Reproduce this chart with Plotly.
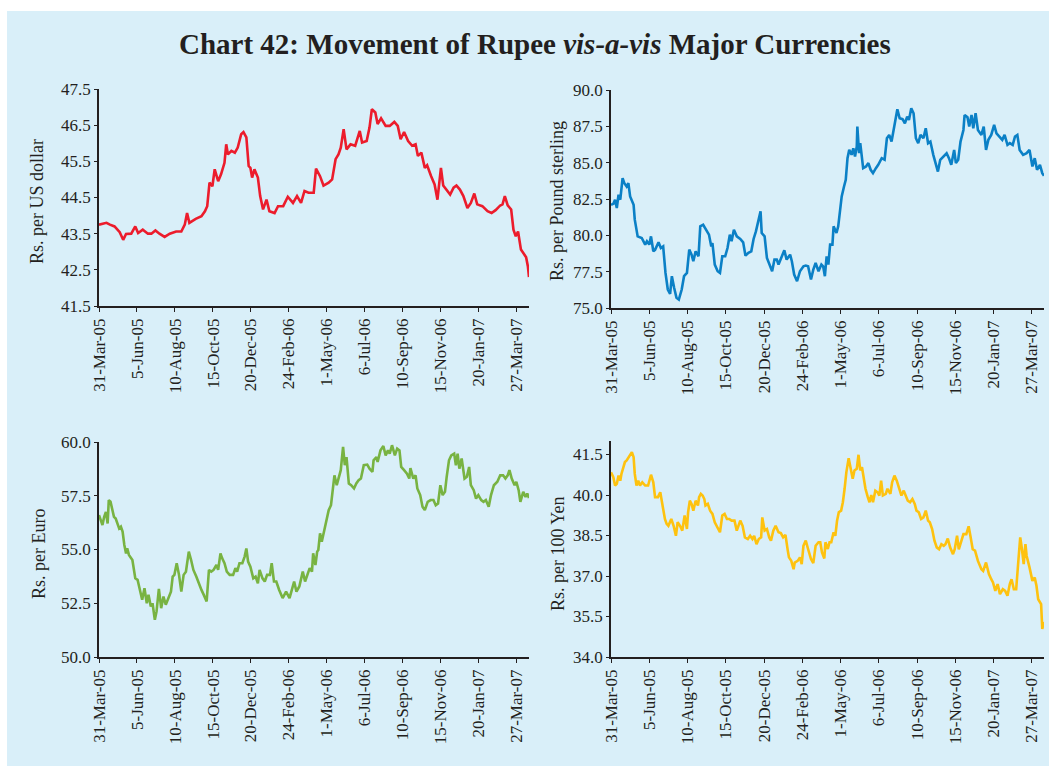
import pandas as pd
import plotly.graph_objects as go

# ---------------- data (days since 31-Mar-2005, value) ----------------
BASE_DATE = "2005-03-31"
END_DATE = "2007-04-17"

tick_dates = ["2005-03-31", "2005-06-05", "2005-08-10", "2005-10-15", "2005-12-20", "2006-02-24",
              "2006-05-01", "2006-07-06", "2006-09-10", "2006-11-15", "2007-01-20", "2007-03-27"]
tick_labels = ["31-Mar-05", "5-Jun-05", "10-Aug-05", "15-Oct-05", "20-Dec-05", "24-Feb-06",
               "1-May-06", "6-Jul-06", "10-Sep-06", "15-Nov-06", "20-Jan-07", "27-Mar-07"]

usd_day = [0, 13, 19, 27, 36, 42, 47, 56, 63, 68,
           76, 85, 91, 98, 105, 114, 123, 134, 143, 149,
           153, 157, 168, 178, 184, 188, 192, 197, 201, 207,
           212, 218, 221, 224, 230, 236, 241, 247, 251, 256,
           260, 263, 266, 270, 276, 280, 285, 291, 296, 305,
           311, 320, 328, 337, 344, 351, 357, 364, 373, 377,
           384, 390, 399, 405, 411, 416, 420, 425, 430, 437,
           445, 453, 457, 465, 470, 474, 480, 484, 490, 498,
           505, 513, 519, 524, 530, 537, 544, 550, 554, 560,
           566, 570, 577, 583, 588, 594, 598, 604, 610, 616,
           621, 627, 633, 640, 646, 652, 657, 666, 675, 682,
           689, 697, 701, 705, 710, 716, 720, 724, 728, 733,
           738, 742, 745, 747]
usd_val = [43.75, 43.80, 43.75, 43.70, 43.54, 43.33, 43.49, 43.50, 43.70, 43.52,
           43.61, 43.50, 43.50, 43.59, 43.50, 43.41, 43.50, 43.56, 43.56, 43.75,
           44.07, 43.80, 43.91, 43.98, 44.12, 44.26, 44.91, 44.81, 45.28, 44.95,
           45.14, 45.46, 45.97, 45.69, 45.79, 45.74, 45.88, 46.25, 46.31, 46.16,
           45.37, 45.32, 45.05, 45.28, 45.05, 44.54, 44.17, 44.44, 44.12, 44.07,
           44.26, 44.26, 44.52, 44.35, 44.54, 44.35, 44.68, 44.63, 44.63, 45.30,
           45.09, 44.83, 44.91, 45.00, 45.56, 45.69, 45.88, 46.39, 45.83, 45.97,
           45.93, 46.34, 46.02, 46.06, 46.44, 46.94, 46.85, 46.53, 46.69, 46.48,
           46.48, 46.59, 46.48, 46.11, 46.31, 46.06, 45.93, 45.97, 45.65, 45.74,
           45.32, 45.39, 45.09, 44.86, 44.44, 45.32, 44.83, 44.72, 44.58, 44.77,
           44.83, 44.72, 44.54, 44.21, 44.35, 44.61, 44.31, 44.26, 44.12, 44.07,
           44.15, 44.28, 44.31, 44.54, 44.28, 44.17, 43.61, 43.43, 43.56, 43.06,
           42.96, 42.85, 42.60, 42.30]

gbp_day = [0, 4, 7, 10, 13, 16, 20, 23, 27, 30,
           33, 39, 41, 46, 53, 59, 62, 66, 69, 73,
           76, 82, 86, 90, 94, 98, 102, 105, 109, 113,
           117, 122, 126, 131, 135, 139, 142, 146, 151, 154,
           159, 165, 169, 173, 175, 179, 184, 188, 192, 197,
           201, 205, 208, 212, 217, 223, 228, 232, 237, 242,
           246, 250, 254, 258, 260, 265, 269, 274, 278, 282,
           286, 289, 294, 299, 303, 309, 312, 316, 321, 326,
           332, 336, 340, 345, 349, 353, 358, 363, 366, 369,
           372, 375, 378, 382, 384, 389, 392, 395, 398, 402,
           405, 408, 411, 415, 418, 421, 424, 425, 428, 430,
           435, 440, 444, 448, 452, 457, 461, 467, 472, 476,
           480, 484, 490, 494, 498, 503, 507, 511, 514, 518,
           522, 526, 530, 534, 539, 543, 547, 551, 556, 560,
           564, 568, 574, 579, 583, 587, 592, 595, 599, 603,
           608, 610, 615, 618, 622, 625, 629, 633, 639, 643,
           647, 651, 656, 661, 665, 670, 675, 679, 684, 688,
           693, 697, 701, 705, 711, 717, 722, 727, 731, 735,
           740, 744, 747]
gbp_val = [82.10, 82.17, 82.45, 81.88, 82.79, 82.45, 83.94, 83.59, 83.36, 83.59,
           82.68, 82.10, 81.08, 79.93, 79.82, 79.36, 79.59, 79.36, 79.93, 78.90,
           79.00, 79.52, 79.13, 79.24, 77.41, 76.27, 75.97, 77.19, 76.38, 75.70,
           75.58, 76.27, 77.19, 77.41, 79.02, 78.67, 78.22, 78.90, 78.56, 80.62,
           80.73, 80.27, 80.05, 79.24, 79.47, 77.99, 77.53, 77.41, 78.56, 78.56,
           79.13, 80.05, 79.59, 80.39, 79.93, 79.75, 79.52, 78.60, 78.79, 78.90,
           79.75, 80.27, 80.96, 81.65, 80.16, 79.93, 78.44, 77.87, 77.53, 78.33,
           78.33, 77.99, 78.44, 78.97, 78.33, 78.67, 78.22, 77.30, 76.84, 77.53,
           77.87, 77.92, 77.87, 76.96, 77.64, 78.10, 77.53, 77.99, 77.87, 77.19,
           78.56, 77.99, 79.36, 79.36, 80.62, 80.16, 80.62, 81.53, 82.68, 83.36,
           83.82, 85.31, 85.88, 85.54, 85.99, 85.42, 86.11, 87.48, 85.65, 86.34,
           84.62, 84.74, 84.97, 84.51, 84.28, 84.62, 84.85, 85.31, 85.20, 86.68,
           86.91, 86.45, 87.71, 88.67, 88.05, 87.99, 87.71, 88.17, 87.94, 88.74,
           88.40, 86.68, 86.34, 86.91, 86.68, 87.37, 86.34, 86.45, 85.54, 84.85,
           84.39, 85.20, 85.42, 85.65, 85.31, 84.85, 85.88, 84.97, 85.20, 86.45,
           87.25, 88.28, 88.12, 87.48, 88.28, 87.37, 88.40, 87.25, 86.91, 87.48,
           85.88, 86.57, 86.91, 87.60, 87.02, 86.80, 86.57, 86.91, 86.22, 86.34,
           86.22, 86.80, 86.91, 85.88, 85.54, 85.65, 85.88, 84.74, 85.31, 84.51,
           84.85, 84.28, 84.10]

eur_day = [0, 3, 6, 9, 12, 15, 17, 20, 23, 26,
           29, 32, 35, 38, 41, 44, 47, 49, 52, 58,
           63, 67, 71, 75, 79, 83, 86, 90, 93, 97,
           100, 104, 108, 112, 116, 121, 125, 128, 131, 135,
           139, 143, 147, 151, 156, 160, 164, 169, 173, 178,
           182, 187, 191, 195, 199, 204, 207, 211, 214, 218,
           222, 227, 233, 237, 240, 244, 249, 253, 256, 259,
           263, 268, 272, 276, 279, 284, 288, 292, 297, 300,
           304, 308, 313, 319, 325, 331, 335, 339, 343, 348,
           354, 358, 362, 366, 370, 372, 376, 379, 381, 384,
           387, 391, 395, 399, 403, 406, 409, 413, 418, 420,
           424, 427, 430, 434, 438, 443, 447, 451, 455, 460,
           466, 470, 475, 477, 482, 484, 489, 494, 498, 502,
           505, 509, 514, 518, 522, 525, 530, 535, 539, 541,
           546, 550, 553, 558, 562, 566, 571, 576, 581, 585,
           589, 593, 597, 601, 604, 608, 612, 617, 620, 623,
           626, 630, 635, 639, 643, 646, 651, 655, 659, 664,
           668, 672, 677, 681, 686, 692, 697, 702, 706, 710,
           713, 717, 722, 725, 729, 732, 737, 741, 744, 747]
eur_val = [56.60, 56.37, 56.14, 56.52, 56.75, 56.21, 57.30, 57.22, 56.91, 56.52,
           56.44, 56.21, 55.98, 56.06, 55.83, 55.21, 54.82, 55.05, 54.75, 54.51,
           53.66, 53.59, 53.04, 52.66, 53.20, 52.50, 52.89, 52.35, 52.50, 51.73,
           52.12, 53.17, 52.27, 52.81, 52.43, 52.74, 53.04, 53.74, 53.82, 54.36,
           53.82, 53.04, 53.82, 53.97, 54.90, 54.51, 54.05, 53.74, 53.43, 53.12,
           52.89, 52.58, 54.05, 53.97, 54.05, 54.28, 54.05, 54.82, 54.59, 54.36,
           53.97, 53.82, 53.82, 54.13, 53.97, 54.36, 54.36, 54.67, 55.05, 54.44,
           54.20, 53.66, 53.74, 53.43, 54.05, 53.66, 53.51, 53.82, 53.82, 54.36,
           53.51, 53.51, 53.12, 52.74, 53.04, 52.74, 53.12, 53.51, 53.04, 53.28,
           53.97, 53.51, 53.82, 54.13, 53.97, 54.82, 54.28, 54.90, 54.98, 55.75,
           55.36, 55.83, 56.45, 56.83, 57.06, 57.84, 58.45, 57.99, 58.53, 58.69,
           59.77, 58.92, 59.30, 58.07, 57.99, 57.84, 58.07, 58.22, 58.30, 58.92,
           58.95, 58.76, 58.61, 59.15, 59.30, 59.07, 59.61, 59.81, 59.38, 59.61,
           59.46, 59.85, 59.38, 59.69, 59.61, 58.84, 58.69, 58.53, 58.30, 58.79,
           58.30, 58.45, 57.84, 57.53, 56.99, 56.83, 57.22, 57.30, 57.30, 57.06,
           57.14, 57.99, 57.53, 57.68, 58.38, 59.15, 59.38, 59.46, 58.92, 59.46,
           58.76, 59.23, 58.30, 58.38, 58.84, 57.99, 57.76, 57.37, 57.53, 57.30,
           57.22, 57.30, 56.99, 57.53, 57.99, 58.15, 58.45, 58.45, 58.30, 58.45,
           58.69, 58.30, 57.99, 58.15, 57.76, 57.22, 57.68, 57.45, 57.60, 57.40]

jpy_day = [0, 4, 7, 10, 13, 16, 18, 21, 24, 27,
           30, 33, 36, 39, 41, 44, 47, 50, 54, 59,
           64, 69, 73, 76, 81, 85, 87, 90, 93, 96,
           99, 104, 108, 112, 115, 119, 123, 127, 131, 133,
           136, 139, 142, 146, 150, 152, 155, 158, 161, 163,
           167, 171, 175, 179, 184, 188, 192, 196, 200, 204,
           208, 213, 217, 220, 223, 227, 231, 236, 240, 244,
           247, 251, 255, 259, 261, 265, 269, 273, 276, 280,
           284, 289, 293, 297, 301, 305, 307, 311, 315, 317,
           322, 326, 329, 332, 336, 340, 345, 349, 353, 358,
           361, 364, 368, 370, 374, 377, 380, 384, 387, 390,
           393, 397, 400, 403, 406, 410, 414, 417, 420, 424,
           427, 430, 433, 436, 439, 443, 446, 449, 452, 456,
           460, 463, 466, 469, 474, 477, 482, 485, 489, 493,
           497, 501, 505, 508, 512, 516, 520, 524, 527, 531,
           535, 539, 543, 547, 550, 554, 558, 562, 566, 570,
           574, 577, 581, 585, 590, 593, 597, 600, 604, 608,
           613, 617, 620, 624, 628, 633, 639, 642, 647, 652,
           656, 659, 663, 667, 671, 676, 680, 684, 688, 691,
           695, 699, 703, 706, 709, 712, 715, 717, 722, 727,
           731, 734, 737, 739, 742, 744, 747]
jpy_val = [40.84, 40.66, 40.35, 40.41, 40.72, 40.53, 40.78, 40.97, 41.22, 41.28,
           41.40, 41.52, 41.59, 41.40, 40.78, 40.35, 40.53, 40.35, 40.47, 40.35,
           40.35, 40.75, 40.47, 39.92, 39.92, 40.10, 39.85, 39.61, 39.11, 38.93,
           38.86, 39.11, 38.86, 38.49, 38.99, 38.86, 38.68, 39.24, 38.74, 39.36,
           39.79, 39.67, 39.42, 39.79, 39.61, 39.92, 40.04, 39.98, 39.85, 39.61,
           39.67, 39.42, 39.30, 38.99, 38.80, 38.62, 39.24, 39.30, 39.11, 39.11,
           39.05, 39.05, 38.68, 38.86, 39.05, 38.86, 38.43, 38.37, 38.49, 38.37,
           38.49, 38.18, 38.37, 38.43, 39.17, 38.68, 38.74, 38.43, 38.31, 38.68,
           38.86, 38.62, 38.59, 38.43, 38.52, 37.94, 37.69, 37.56, 37.25, 37.50,
           37.56, 37.69, 37.44, 38.12, 38.31, 38.00, 37.63, 37.48, 38.12, 38.25,
           38.25, 37.87, 37.65, 38.25, 38.00, 38.25, 38.25, 38.62, 38.49, 39.05,
           39.36, 39.42, 39.73, 40.23, 40.84, 41.36, 40.84, 40.60, 40.91, 40.97,
           41.49, 40.91, 41.03, 40.60, 40.23, 39.92, 39.73, 40.00, 39.73, 40.16,
           40.10, 39.98, 40.53, 39.98, 40.04, 40.23, 40.04, 40.47, 40.72, 40.53,
           40.29, 39.98, 40.16, 39.98, 39.79, 39.73, 39.85, 39.67, 39.42, 39.36,
           39.11, 39.17, 39.42, 39.05, 38.99, 38.74, 38.31, 38.06, 37.99, 38.18,
           38.12, 38.18, 38.39, 38.06, 37.81, 37.99, 38.49, 37.99, 38.25, 38.55,
           38.55, 38.84, 38.49, 37.99, 37.94, 37.56, 37.25, 37.19, 37.50, 37.07,
           36.88, 36.76, 36.45, 36.70, 36.33, 36.51, 36.45, 36.27, 36.70, 36.88,
           36.51, 36.51, 37.63, 38.43, 37.99, 37.44, 38.18, 37.75, 37.32, 36.82,
           36.94, 36.64, 36.14, 36.08, 35.96, 35.04, 35.30]

y_titles = ["Rs. per US dollar", "Rs. per Pound sterling", "Rs. per Euro", "Rs. per 100 Yen"]
colors = ["#ec1c2c", "#0b80c6", "#78b342", "#fec20f"]

# ---------------- figure ----------------
W, H = 1049, 766
base = pd.Timestamp(BASE_DATE)


def to_dates(days):
    return [base + pd.Timedelta(days=int(d)) for d in days]


def px_x(a, b):
    return [a / W, b / W]


def px_y(top, bottom):
    return [1 - bottom / H, 1 - top / H]


INK = "#231f20"
FONT = "Liberation Serif"

panels = [
    dict(days=usd_day, vals=usd_val, xd=px_x(99, 529), yd=px_y(89, 306), yr=[41.5, 47.5], t0=41.5, dt=1.0,
         title_xy=(37, 202)),
    dict(days=gbp_day, vals=gbp_val, xd=px_x(611, 1044), yd=px_y(90, 308), yr=[75, 90], t0=75, dt=2.5,
         title_xy=(557, 201)),
    dict(days=eur_day, vals=eur_val, xd=px_x(99, 529), yd=px_y(442, 657), yr=[50, 60], t0=50, dt=2.5,
         title_xy=(39, 554)),
    dict(days=jpy_day, vals=jpy_val, xd=px_x(611, 1044), yd=px_y(441, 657), yr=[34, 42], t0=34, dt=1.5,
         title_xy=(558, 554)),
]

fig = go.Figure()
layout = dict(
    template="none",
    width=W, height=H, autosize=False,
    margin=dict(l=0, r=0, t=0, b=0, pad=0, autoexpand=False),
    paper_bgcolor="white", plot_bgcolor="rgba(0,0,0,0)",
    showlegend=False, font=dict(family=FONT, color=INK),
    shapes=[dict(type="rect", xref="paper", yref="paper", x0=7 / W, x1=1, y0=0, y1=1 - 11 / H,
                 fillcolor="#d9eff9", line=dict(width=0), layer="below")],
    annotations=[dict(text="<b>Chart 42: Movement of Rupee <i>vis-a-vis</i> Major Currencies</b>",
                      xref="paper", yref="paper", x=535 / W, y=1 - 44 / H,
                      xanchor="center", yanchor="middle", showarrow=False,
                      font=dict(size=29, color=INK, family=FONT))],
)

for i, p in enumerate(panels):
    n = i + 1
    xa = "x" if n == 1 else f"x{n}"
    ya = "y" if n == 1 else f"y{n}"
    fig.add_trace(go.Scatter(x=to_dates(p["days"]), y=p["vals"], mode="lines",
                             line=dict(color=colors[i], width=2.6), xaxis=xa, yaxis=ya,
                             hoverinfo="x+y"))
    layout[f"xaxis{'' if n == 1 else n}"] = dict(
        domain=p["xd"], anchor=ya, type="date", range=[BASE_DATE, END_DATE], automargin=False,
        tickmode="array", tickvals=tick_dates, ticktext=tick_labels, tickangle=-90,
        ticks="outside", ticklen=4, tickwidth=1.3, tickcolor=INK,
        showline=True, linecolor=INK, linewidth=1.5, showgrid=False, zeroline=False,
        tickfont=dict(size=17, color=INK, family=FONT))
    layout[f"yaxis{'' if n == 1 else n}"] = dict(
        domain=p["yd"], anchor=xa, range=p["yr"], tick0=p["t0"], dtick=p["dt"], tickformat=".1f",
        automargin=False,
        ticks="outside", ticklen=3, tickwidth=1.3, tickcolor=INK,
        showline=True, linecolor=INK, linewidth=1.5, showgrid=False, zeroline=False,
        tickfont=dict(size=17, color=INK, family=FONT))
    tx, ty = p["title_xy"]
    layout["annotations"].append(dict(text=y_titles[i], xref="paper", yref="paper",
                                      x=tx / W, y=1 - ty / H, textangle=-90,
                                      xanchor="center", yanchor="middle", showarrow=False,
                                      font=dict(size=18, color=INK, family=FONT)))

fig.update_layout(**layout)
PIN = ("document.documentElement.style.margin='0';document.body.style.margin='0';"
       "document.body.style.overflow='hidden';"
       "var g=document.getElementsByClassName('plotly-graph-div')[0];"
       "g.style.position='fixed';g.style.left='0px';g.style.top='0px';")
fig.write_html("out.html", config={"displayModeBar": False}, post_script=PIN)
